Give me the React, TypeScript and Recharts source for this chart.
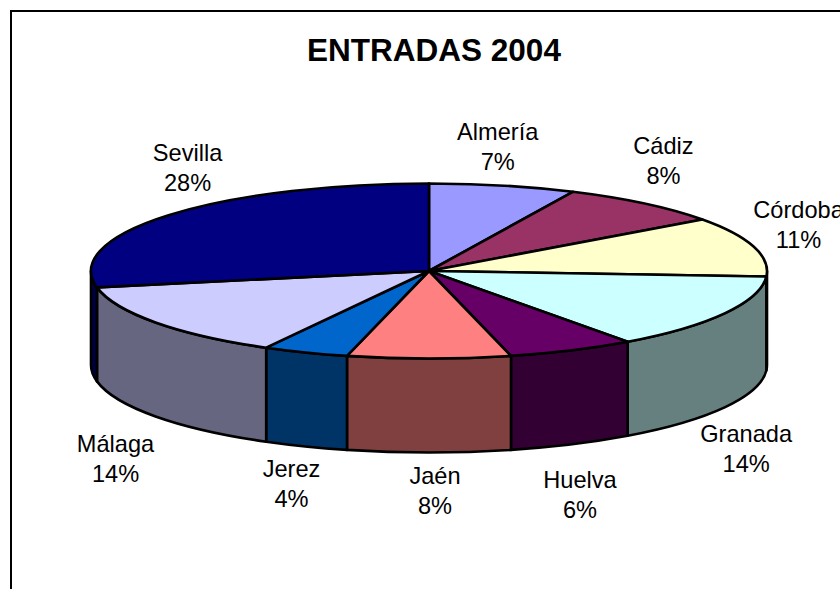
import { PieChart, Pie } from "recharts";

const provinces = ["Almería", "Cádiz", "Córdoba", "Granada", "Huelva", "Jaén", "Jerez", "Málaga", "Sevilla"];
const shares = [7, 8, 11, 14, 6.1, 7.8, 4.1, 14, 28]; // labels show these rounded
const topColors = ["#9999FF", "#993366", "#FFFFCC", "#CCFFFF", "#660066", "#FF8080", "#0066CC", "#CCCCFF", "#000080"];
const sideColors = ["#4D4D80", "#4D1A33", "#808066", "#668080", "#330033", "#804040", "#003366", "#666680", "#000040"];

const rows = provinces.map((name, i) => ({
  name,
  value: shares[i],
  fill: topColors[i],
  side: sideColors[i],
}));

const WIDTH = 840;
const HEIGHT = 589;
const CX = 429;
const CY = 271;
const RX = 338;
const RY = 87.5; // squashed radius of the disc
const DEPTH = 94;
const LINE = 2.6;

// label centre relative to the point of the rim at the slice's mid angle
const labelNudge: Record<string, [number, number]> = {
  "Almería": [-5, -39.5],
  "Cádiz": [19, -43],
  "Córdoba": [45, -22],
  "Granada": [21, 135],
  "Huelva": [8, 144],
  "Jaén": [6, 132],
  "Jerez": [-14, 131],
  "Málaga": [-40, 136.5],
  "Sevilla": [19, -48],
};

// recharts angle (degrees, counter-clockwise from 3 o'clock) to a point on the flat disc
function rim(angle: number, dy = 0) {
  const a = (angle * Math.PI) / 180;
  return { x: CX + RX * Math.cos(a), y: CY - RY * Math.sin(a) + dy };
}

function Slice3D(props: any) {
  const { startAngle, endAngle, fill, side } = props;
  const from = rim(startAngle);
  const to = rim(endAngle);
  const large = startAngle - endAngle > 180 ? 1 : 0;
  const top = `M${CX},${CY} L${from.x},${from.y} A${RX},${RY} 0 ${large} 1 ${to.x},${to.y} Z`;

  // only the front half of the disc shows a wall (angles 0 to -180)
  const wallStart = Math.min(startAngle, 0);
  const wallEnd = Math.max(endAngle, -180);
  let wall = null;
  if (wallStart > wallEnd) {
    const a = rim(wallStart);
    const b = rim(wallEnd);
    const c = rim(wallEnd, DEPTH);
    const d = rim(wallStart, DEPTH);
    wall = (
      <path
        d={`M${a.x},${a.y} A${RX},${RY} 0 0 1 ${b.x},${b.y} L${c.x},${c.y} A${RX},${RY} 0 0 0 ${d.x},${d.y} Z`}
        fill={side}
        stroke="#000"
        strokeWidth={LINE}
        strokeLinejoin="round"
      />
    );
  }

  return (
    <g>
      {wall}
      <path d={top} fill={fill} stroke="#000" strokeWidth={LINE} strokeLinejoin="round" />
    </g>
  );
}

function SliceLabel(props: any) {
  const { midAngle, name, value } = props;
  const p = rim(midAngle);
  const [dx, dy] = labelNudge[name];
  const x = p.x + dx;
  const y = p.y + dy;
  return (
    <text textAnchor="middle" fontFamily="Liberation Sans" fontSize={23.6} fill="#000">
      <tspan x={x} y={y - 6.5}>{name}</tspan>
      <tspan x={x} y={y + 23.5}>{`${Math.round(value)}%`}</tspan>
    </text>
  );
}

export default function App() {
  return (
    <div style={{ position: "absolute", left: 0, top: 0, width: WIDTH, height: HEIGHT, overflow: "hidden", background: "#fff" }}>
      <PieChart width={WIDTH} height={HEIGHT} margin={{ top: 0, right: 0, bottom: 0, left: 0 }}>
        <rect x={11} y={11} width={WIDTH + 20} height={HEIGHT + 20} fill="#fff" stroke="#000" strokeWidth={2} />
        <text x={434} y={61} textAnchor="middle" fontFamily="Liberation Sans" fontWeight="bold" fontSize={31.5} fill="#000">
          ENTRADAS 2004
        </text>
        <Pie
          data={rows}
          dataKey="value"
          nameKey="name"
          cx={CX}
          cy={CY}
          outerRadius={RX}
          startAngle={90}
          endAngle={-270}
          stroke="#000"
          shape={Slice3D}
          label={SliceLabel}
          labelLine={false}
          isAnimationActive={false}
        />
      </PieChart>
    </div>
  );
}
